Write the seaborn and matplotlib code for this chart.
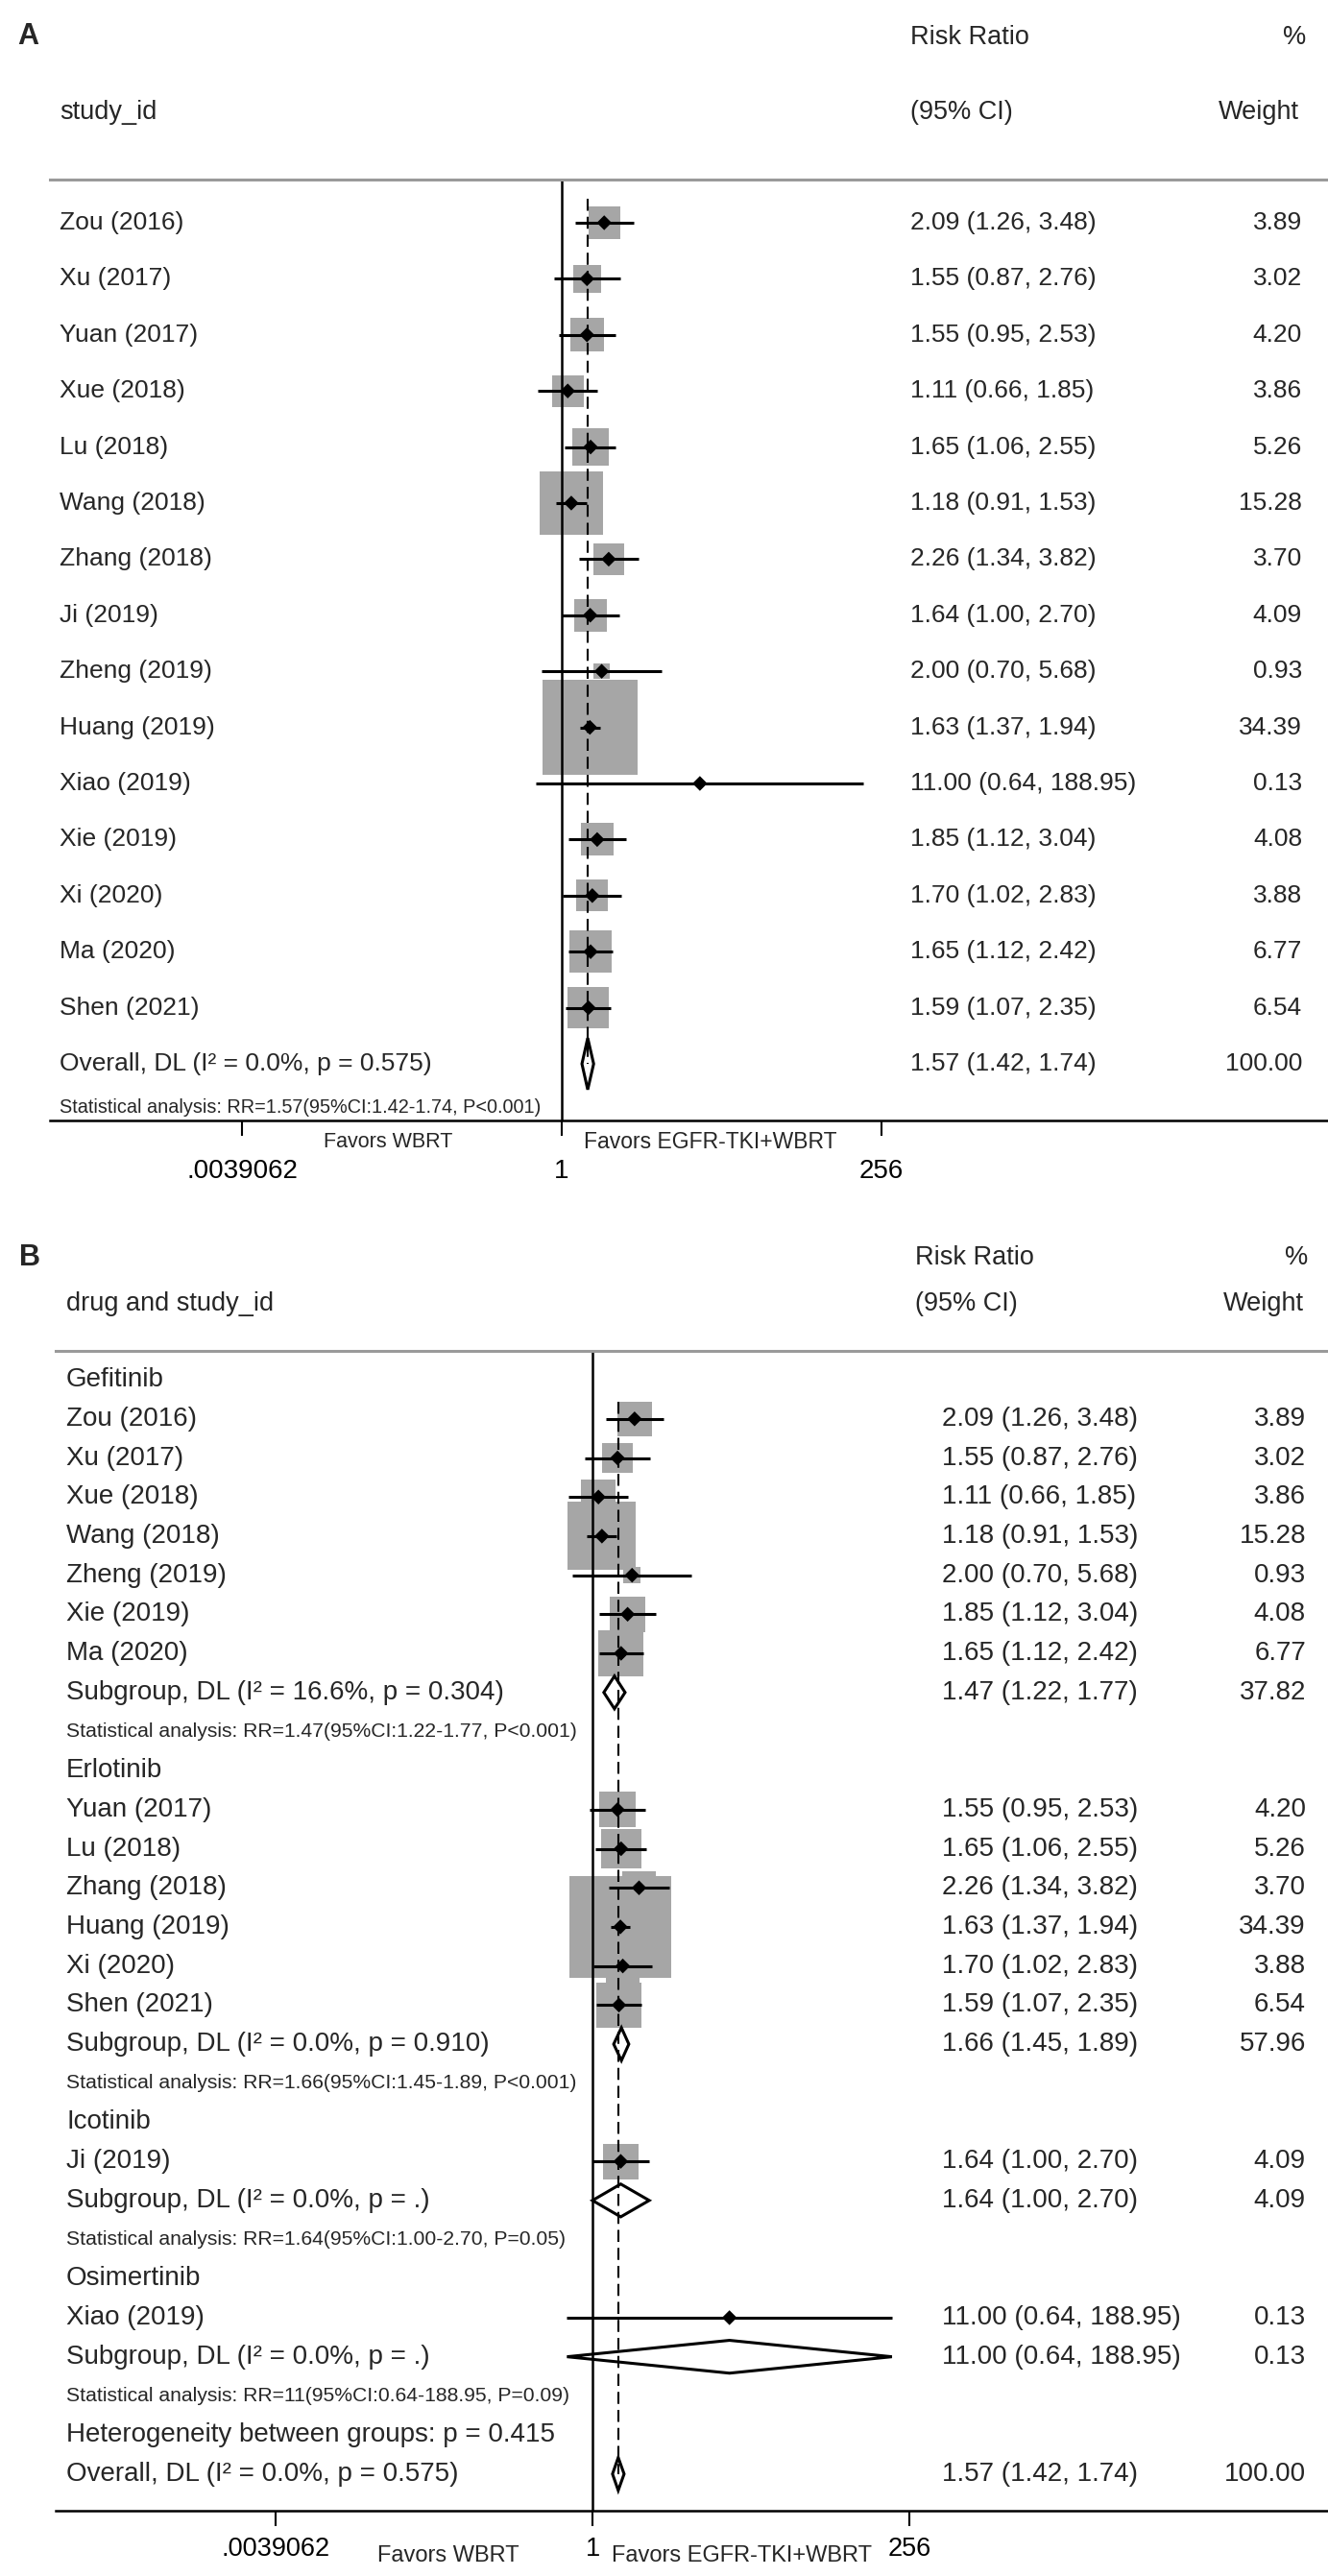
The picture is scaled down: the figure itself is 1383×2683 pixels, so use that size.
import numpy as np
import pandas as pd
import matplotlib
matplotlib.use("Agg")
import matplotlib.pyplot as plt
from matplotlib.ticker import NullLocator
import seaborn as sns

# ---- data: all studies (panel A) ----
study = ["Zou (2016)", "Xu (2017)", "Yuan (2017)", "Xue (2018)", "Lu (2018)",
         "Wang (2018)", "Zhang (2018)", "Ji (2019)", "Zheng (2019)", "Huang (2019)",
         "Xiao (2019)", "Xie (2019)", "Xi (2020)", "Ma (2020)", "Shen (2021)"]
rr = [2.09, 1.55, 1.55, 1.11, 1.65, 1.18, 2.26, 1.64, 2.00, 1.63, 11.00, 1.85, 1.70, 1.65, 1.59]
lo = [1.26, 0.87, 0.95, 0.66, 1.06, 0.91, 1.34, 1.00, 0.70, 1.37, 0.64, 1.12, 1.02, 1.12, 1.07]
hi = [3.48, 2.76, 2.53, 1.85, 2.55, 1.53, 3.82, 2.70, 5.68, 1.94, 188.95, 3.04, 2.83, 2.42, 2.35]
weight = [3.89, 3.02, 4.20, 3.86, 5.26, 15.28, 3.70, 4.09, 0.93, 34.39, 0.13, 4.08, 3.88, 6.77, 6.54]

overall = (1.57, 1.42, 1.74)
overall_label = "Overall, DL (I² = 0.0%, p = 0.575)"
overall_note = "Statistical analysis: RR=1.57(95%CI:1.42-1.74, P<0.001)"

# ---- data: by drug (panel B) ----
drugs = ["Gefitinib", "Erlotinib", "Icotinib", "Osimertinib"]
drug_studies = [
    ["Zou (2016)", "Xu (2017)", "Xue (2018)", "Wang (2018)", "Zheng (2019)", "Xie (2019)", "Ma (2020)"],
    ["Yuan (2017)", "Lu (2018)", "Zhang (2018)", "Huang (2019)", "Xi (2020)", "Shen (2021)"],
    ["Ji (2019)"],
    ["Xiao (2019)"],
]
sub_rr = [1.47, 1.66, 1.64, 11.00]
sub_lo = [1.22, 1.45, 1.00, 0.64]
sub_hi = [1.77, 1.89, 2.70, 188.95]
sub_weight = [37.82, 57.96, 4.09, 0.13]
sub_i2 = ["16.6%", "0.0%", "0.0%", "0.0%"]
sub_p = ["0.304", "0.910", ".", "."]
sub_note = ["RR=1.47(95%CI:1.22-1.77, P<0.001)", "RR=1.66(95%CI:1.45-1.89, P<0.001)",
            "RR=1.64(95%CI:1.00-2.70, P=0.05)", "RR=11(95%CI:0.64-188.95, P=0.09)"]
het_p = "0.415"

ticks = [2 ** -8, 1, 2 ** 8]
tick_labels = [".0039062", "1", "256"]

sns.set_style("white")
plt.rcParams['font.family'] = ['Liberation Sans', 'DejaVu Sans']

W, H = 1383, 2683
fig = plt.figure(figsize=(W / 100, H / 100), dpi=100)
BOX = "#a6a6a6"


def make_panel(top, bottom, left, x1, k, row0, step):
    ax = fig.add_axes([left / W, 1 - bottom / H, (W - left) / W, (bottom - top) / H])
    ax.set_xscale("log")
    ax.set_xlim(np.exp((left - x1) / k), np.exp((W - x1) / k))
    ax.set_yticks([])
    for s in ["left", "right"]:
        ax.spines[s].set_visible(False)
    ax.spines["top"].set_color("#9a9a9a")
    ax.spines["top"].set_linewidth(2.2)
    ax.spines["bottom"].set_color("black")
    ax.spines["bottom"].set_linewidth(1.8)
    ax.xaxis.set_minor_locator(NullLocator())
    ax.set_xticks(ticks)
    ax.set_xticklabels(tick_labels)
    ax.axvline(1, color="black", lw=1.8, zorder=2)
    fx = lambda px: (px - left) / (W - left)
    return ax, fx


def draw_studies(ax, rows, r, l, h, w, scale):
    df = pd.DataFrame({"row": rows, "rr": r, "w": w})
    sns.scatterplot(data=df, x="rr", y="row", size="w", sizes=(scale * min(w), scale * max(w)),
                    marker="s", color=BOX, edgecolor="none", linewidth=0, legend=False,
                    ax=ax, zorder=1)
    ax.hlines(rows, l, h, color="black", lw=2.2, zorder=3)
    sns.scatterplot(data=df, x="rr", y="row", marker="D", s=62, color="black",
                    edgecolor="none", legend=False, ax=ax, zorder=4)
    ax.set_xlabel("")
    ax.set_ylabel("")


def diamond(ax, row, est, l, h, half):
    ax.fill([l, est, h, est], [row, row - half, row, row + half], facecolor="none",
            edgecolor="black", lw=2.2, zorder=5)


# ================= Panel A =================
axA, fA = make_panel(187, 1167, 52, 585, 60.0, 232, 58.4)
tA = axA.get_yaxis_transform()
rowsA = list(range(len(study)))
draw_studies(axA, rowsA, rr, lo, hi, weight, 148)
n = len(study)
axA.vlines(overall[0], -0.43, n, colors="black", linestyles=(0, (6, 3)), lw=1.5, zorder=2)
diamond(axA, n, *overall, 0.46)
axA.set_ylim(16.01, -0.77)
axA.tick_params(axis="x", bottom=True, direction="out", length=11.5, width=1.5, pad=17,
                labelsize=20, colors="black")

axA.text(fA(18), -3.32, "A", transform=tA, fontsize=22, fontweight="bold", va="center", clip_on=False)
axA.text(fA(948), -3.3, "Risk Ratio", transform=tA, fontsize=19.5, va="center")
axA.text(fA(1360), -3.3, "%", transform=tA, fontsize=19.5, va="center", ha="right")
axA.text(fA(62), -1.97, "study_id", transform=tA, fontsize=19.5, va="center")
axA.text(fA(948), -1.97, "(95% CI)", transform=tA, fontsize=19.5, va="center")
axA.text(fA(1353), -1.97, "Weight", transform=tA, fontsize=19.5, va="center", ha="right")
for i in range(n):
    axA.text(fA(62), i, study[i], transform=tA, fontsize=19, va="center")
    axA.text(fA(948), i, f"{rr[i]:.2f} ({lo[i]:.2f}, {hi[i]:.2f})", transform=tA, fontsize=19, va="center")
    axA.text(fA(1356), i, f"{weight[i]:.2f}", transform=tA, fontsize=19, va="center", ha="right")
axA.text(fA(62), n, overall_label, transform=tA, fontsize=19, va="center")
axA.text(fA(948), n, f"{overall[0]:.2f} ({overall[1]:.2f}, {overall[2]:.2f})", transform=tA, fontsize=19, va="center")
axA.text(fA(1356), n, "100.00", transform=tA, fontsize=19, va="center", ha="right")
axA.text(fA(62), 15.78, overall_note, transform=tA, fontsize=14.3, va="center")
axA.text(fA(337), 16.40, "Favors WBRT", transform=tA, fontsize=15.5, va="center", clip_on=False)
axA.text(fA(608), 16.40, "Favors EGFR-TKI+WBRT", transform=tA, fontsize=16.5, va="center", clip_on=False)

# ================= Panel B =================
axB, fB = make_panel(1407, 2615, 58, 617, 59.5, 1437, 40.7)
tB = axB.get_yaxis_transform()
lookup = {s: i for i, s in enumerate(study)}
rowsB, idxB = [], []
labels = []
row = 0
for g, name in enumerate(drugs):
    labels.append((row, name))
    row += 1
    for s in drug_studies[g]:
        rowsB.append(row)
        idxB.append(lookup[s])
        labels.append((row, s))
        row += 1
    labels.append((row, f"Subgroup, DL (I² = {sub_i2[g]}, p = {sub_p[g]})"))
    diamond(axB, row, sub_rr[g], sub_lo[g], sub_hi[g], 0.42)
    axB.text(fB(981), row, f"{sub_rr[g]:.2f} ({sub_lo[g]:.2f}, {sub_hi[g]:.2f})", transform=tB, fontsize=20, va="center")
    axB.text(fB(1360), row, f"{sub_weight[g]:.2f}", transform=tB, fontsize=20, va="center", ha="right")
    row += 1
    axB.text(fB(69), row, "Statistical analysis: " + sub_note[g], transform=tB, fontsize=15.2, va="center")
    row += 1
labels.append((row, f"Heterogeneity between groups: p = {het_p}"))
row += 1
labels.append((row, overall_label))
overall_row = row

draw_studies(axB, rowsB, [rr[i] for i in idxB], [lo[i] for i in idxB], [hi[i] for i in idxB],
             [weight[i] for i in idxB], 171)
for r_, i in zip(rowsB, idxB):
    axB.text(fB(981), r_, f"{rr[i]:.2f} ({lo[i]:.2f}, {hi[i]:.2f})", transform=tB, fontsize=20, va="center")
    axB.text(fB(1360), r_, f"{weight[i]:.2f}", transform=tB, fontsize=20, va="center", ha="right")
for r_, s in labels:
    axB.text(fB(69), r_, s, transform=tB, fontsize=20, va="center")
axB.vlines(overall[0], 0.55, overall_row, colors="black", linestyles=(0, (6, 3)), lw=1.5, zorder=2)
diamond(axB, overall_row, *overall, 0.42)
axB.text(fB(981), overall_row, f"{overall[0]:.2f} ({overall[1]:.2f}, {overall[2]:.2f})", transform=tB, fontsize=20, va="center")
axB.text(fB(1360), overall_row, "100.00", transform=tB, fontsize=20, va="center", ha="right")
axB.set_ylim(28.94, -0.74)
axB.tick_params(axis="x", bottom=True, direction="out", length=11.5, width=1.5, pad=8,
                labelsize=19.5, colors="black")

axB.text(fB(20), -3.12, "B", transform=tB, fontsize=22, fontweight="bold", va="center", clip_on=False)
axB.text(fB(953), -3.12, "Risk Ratio", transform=tB, fontsize=19.5, va="center")
axB.text(fB(1362), -3.12, "%", transform=tB, fontsize=19.5, va="center", ha="right")
axB.text(fB(69), -1.94, "drug and study_id", transform=tB, fontsize=19.5, va="center")
axB.text(fB(953), -1.94, "(95% CI)", transform=tB, fontsize=19.5, va="center")
axB.text(fB(1358), -1.94, "Weight", transform=tB, fontsize=19.5, va="center", ha="right")
axB.text(fB(393), 30.1, "Favors WBRT", transform=tB, fontsize=17, va="center", clip_on=False)
axB.text(fB(637), 30.1, "Favors EGFR-TKI+WBRT", transform=tB, fontsize=17, va="center", clip_on=False)

fig.savefig("out.png", dpi=100, facecolor="white")
